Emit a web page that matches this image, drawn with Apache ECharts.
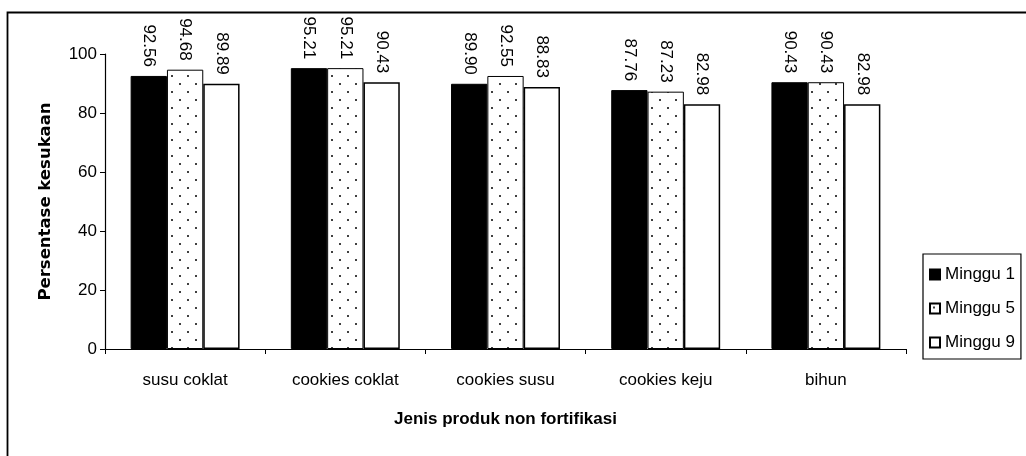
<!DOCTYPE html>
<html>
<head>
<meta charset="utf-8">
<script src="https://cdn.jsdelivr.net/npm/echarts@6/dist/echarts.min.js"></script>
<style>
html,body{margin:0;padding:0;background:#fff;}
#chart{width:1026px;height:456px;}
</style>
</head>
<body>
<div id="chart"></div>
<script>
var categories = ['susu coklat', 'cookies coklat', 'cookies susu', 'cookies keju', 'bihun'];
var minggu1 = [92.56, 95.21, 89.90, 87.76, 90.43];
var minggu5 = [94.68, 95.21, 92.55, 87.23, 90.43];
var minggu9 = [89.89, 90.43, 88.83, 82.98, 82.98];
var seriesNames = ['Minggu 1', 'Minggu 5', 'Minggu 9'];
var yTicks = [0, 20, 40, 60, 80, 100];

function dotPattern() {
  var c = document.createElement('canvas');
  c.width = 16; c.height = 16;
  var ctx = c.getContext('2d');
  ctx.fillStyle = '#fff';
  ctx.fillRect(0, 0, 16, 16);
  ctx.fillStyle = '#000';
  ctx.beginPath(); ctx.arc(4, 4, 1, 0, Math.PI * 2); ctx.fill();
  ctx.beginPath(); ctx.arc(12, 12, 1, 0, Math.PI * 2); ctx.fill();
  return c;
}

var fontF = '"Liberation Sans", Arial, sans-serif';
var labelOpt = {
  show: true,
  position: 'top',
  distance: 9,
  rotate: -90,
  align: 'right',
  verticalAlign: 'middle',
  color: '#000',
  fontFamily: fontF,
  fontSize: 17,
  formatter: function (p) { return p.value.toFixed(2); }
};

var styles = [
  { color: '#000', borderColor: '#000', borderWidth: 1 },
  { color: { image: dotPattern(), repeat: 'repeat' }, borderColor: '#000', borderWidth: 1 },
  { color: '#fff', borderColor: '#000', borderWidth: 1.5 }
];
var data = [minggu1, minggu5, minggu9];

var chart = echarts.init(document.getElementById('chart'), null, { renderer: 'canvas' });
chart.setOption({
  animation: false,
  backgroundColor: '#fff',
  graphic: [{
    type: 'rect',
    shape: { x: 7.5, y: 12.5, width: 1040, height: 480 },
    style: { fill: 'none', stroke: '#000', lineWidth: 1.8 },
    silent: true
  }],
  grid: { left: 105, right: 120, top: 54, bottom: 107, containLabel: false },
  legend: {
    orient: 'vertical',
    left: 923,
    top: 254,
    width: 96,
    padding: [12, 6, 8, 6],
    itemGap: 17,
    itemWidth: 10,
    itemHeight: 10,
    icon: 'rect',
    borderColor: '#000',
    borderWidth: 1.2,
    textStyle: { color: '#000', fontFamily: fontF, fontSize: 17 },
    data: seriesNames
  },
  xAxis: {
    type: 'category',
    data: categories,
    name: 'Jenis produk non fortifikasi',
    nameLocation: 'middle',
    nameGap: 62,
    nameTextStyle: { color: '#000', fontFamily: fontF, fontSize: 17, fontWeight: 'bold' },
    axisLine: { lineStyle: { color: '#000', width: 1.2 } },
    axisTick: { show: true, length: 5, lineStyle: { color: '#000' } },
    axisLabel: { color: '#000', fontFamily: fontF, fontSize: 17, margin: 23 },
    splitLine: { show: false }
  },
  yAxis: {
    type: 'value',
    min: yTicks[0],
    max: yTicks[yTicks.length - 1],
    interval: yTicks[1] - yTicks[0],
    name: 'Persentase kesukaan',
    nameLocation: 'middle',
    nameGap: 51,
    nameTextStyle: { color: '#000', fontFamily: '"DejaVu Sans", sans-serif', fontSize: 16.5, fontWeight: 'bold' },
    axisLine: { show: true, lineStyle: { color: '#000', width: 1.2 } },
    axisTick: { show: true, length: 5, lineStyle: { color: '#000' } },
    axisLabel: { color: '#000', fontFamily: fontF, fontSize: 17, margin: 8 },
    splitLine: { show: false }
  },
  series: seriesNames.map(function (n, i) {
    return {
      name: n,
      type: 'bar',
      data: data[i],
      barGap: '0%',
      barCategoryGap: '32%',
      itemStyle: styles[i],
      label: labelOpt
    };
  })
});
</script>
</body>
</html>
